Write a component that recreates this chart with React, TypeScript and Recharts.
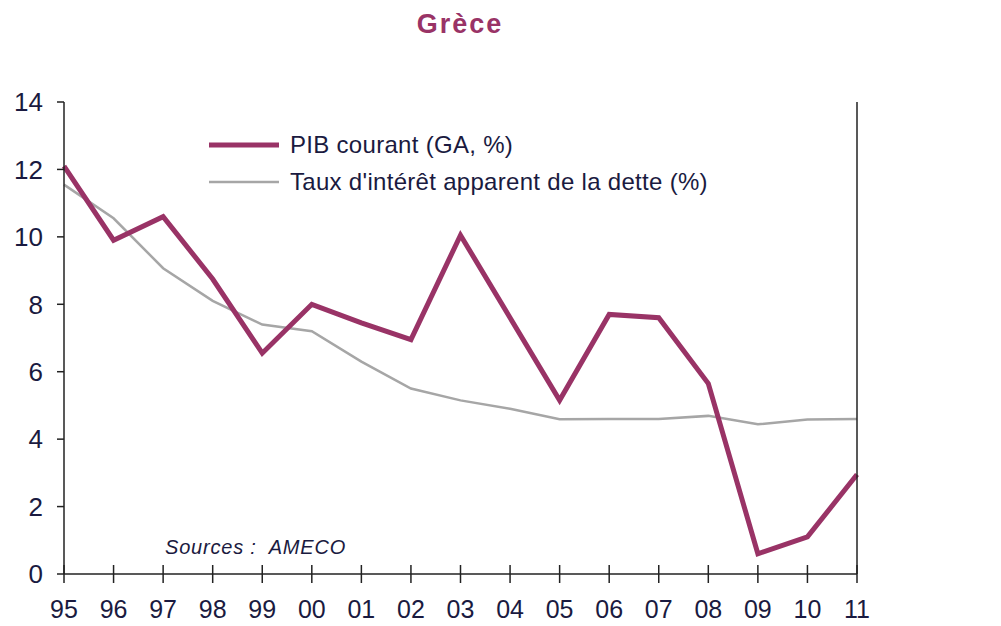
import { Line, LineChart, XAxis, YAxis } from 'recharts'

const years = ['95', '96', '97', '98', '99', '00', '01', '02', '03', '04', '05', '06', '07', '08', '09', '10', '11']
const pibCourant = [12.1, 9.9, 10.6, 8.75, 6.55, 8.0, 7.45, 6.95, 10.05, 7.6, 5.15, 7.7, 7.6, 5.65, 0.6, 1.1, 2.95]
const tauxInteret = [11.55, 10.55, 9.07, 8.1, 7.4, 7.2, 6.3, 5.5, 5.15, 4.9, 4.59, 4.6, 4.6, 4.69, 4.44, 4.58, 4.6]
const yTicks = [0, 2, 4, 6, 8, 10, 12, 14]

const PURPLE = '#993366'
const GREY = '#a6a6a6'
const AXIS = '#222222'
const LABEL = '#1a1a40'
const FONT = '"Liberation Sans", Arial, sans-serif'

const data = years.map((year, i) => ({
  year,
  pib: pibCourant[i],
  taux: tauxInteret[i],
}))

const legendRows = [
  { label: 'PIB courant (GA, %)', color: PURPLE, width: 5 },
  { label: "Taux d'intérêt apparent de la dette (%)", color: GREY, width: 2.5 },
]

function YearTick({ x, y, payload }: any) {
  return (
    <g>
      <line x1={x} x2={x} y1={y - 9} y2={y + 9} stroke={AXIS} strokeWidth={1.5} />
      <text x={x} y={y + 44} textAnchor="middle" fontSize={25} fill={LABEL} fontFamily={FONT}>
        {payload.value}
      </text>
    </g>
  )
}

export default function App() {
  return (
    <div style={{ position: 'absolute', left: 0, top: 0, width: 1001, height: 626, background: '#fff' }}>
      <div
        style={{
          position: 'absolute',
          left: 0,
          width: 920,
          top: 9,
          textAlign: 'center',
          fontFamily: FONT,
          fontWeight: 'bold',
          fontSize: 27,
          letterSpacing: 2,
          color: PURPLE,
        }}
      >
        Grèce
      </div>
      <LineChart
        width={1001}
        height={626}
        data={data}
        margin={{ top: 102, right: 0, bottom: 0, left: 0 }}
      >
        <XAxis
          dataKey="year"
          height={52}
          axisLine={{ stroke: AXIS, strokeWidth: 1.5 }}
          tickLine={false}
          tickSize={0}
          tickMargin={0}
          interval={0}
          tick={<YearTick />}
        />
        <YAxis
          yAxisId="left"
          width={64}
          domain={[0, 14]}
          ticks={yTicks}
          axisLine={{ stroke: AXIS, strokeWidth: 1.5 }}
          tickLine={{ stroke: AXIS, strokeWidth: 1.5 }}
          tickSize={7}
          tickMargin={14}
          tick={{ fill: LABEL, fontSize: 26, fontFamily: FONT }}
        />
        <YAxis
          yAxisId="right"
          orientation="right"
          width={144}
          domain={[0, 14]}
          ticks={yTicks}
          axisLine={{ stroke: AXIS, strokeWidth: 1.5 }}
          tickLine={{ stroke: AXIS, strokeWidth: 1.5 }}
          tickSize={8}
          tickMargin={16}
          tick={{ fill: LABEL, fontSize: 26, fontFamily: FONT, textAnchor: 'start' }}
        />
        <Line
          yAxisId="left"
          dataKey="taux"
          stroke={GREY}
          strokeWidth={2.5}
          dot={false}
          isAnimationActive={false}
        />
        <Line
          yAxisId="left"
          dataKey="pib"
          stroke={PURPLE}
          strokeWidth={5}
          dot={false}
          isAnimationActive={false}
        />
      </LineChart>
      <svg style={{ position: 'absolute', left: 209, top: 118 }} width={560} height={100}>
        {legendRows.map((r, i) => (
          <g key={r.label}>
            <line x1={0} x2={70} y1={27 + i * 37} y2={27 + i * 37} stroke={r.color} strokeWidth={r.width} />
            <text x={81} y={35 + i * 37} fontSize={24} letterSpacing={0.3} fill={LABEL} fontFamily={FONT}>
              {r.label}
            </text>
          </g>
        ))}
      </svg>
      <div
        style={{
          position: 'absolute',
          left: 165,
          top: 536,
          fontFamily: FONT,
          fontStyle: 'italic',
          fontSize: 20,
          letterSpacing: 0.8,
          color: LABEL,
        }}
      >
        Sources :&nbsp; AMECO
      </div>
    </div>
  )
}
